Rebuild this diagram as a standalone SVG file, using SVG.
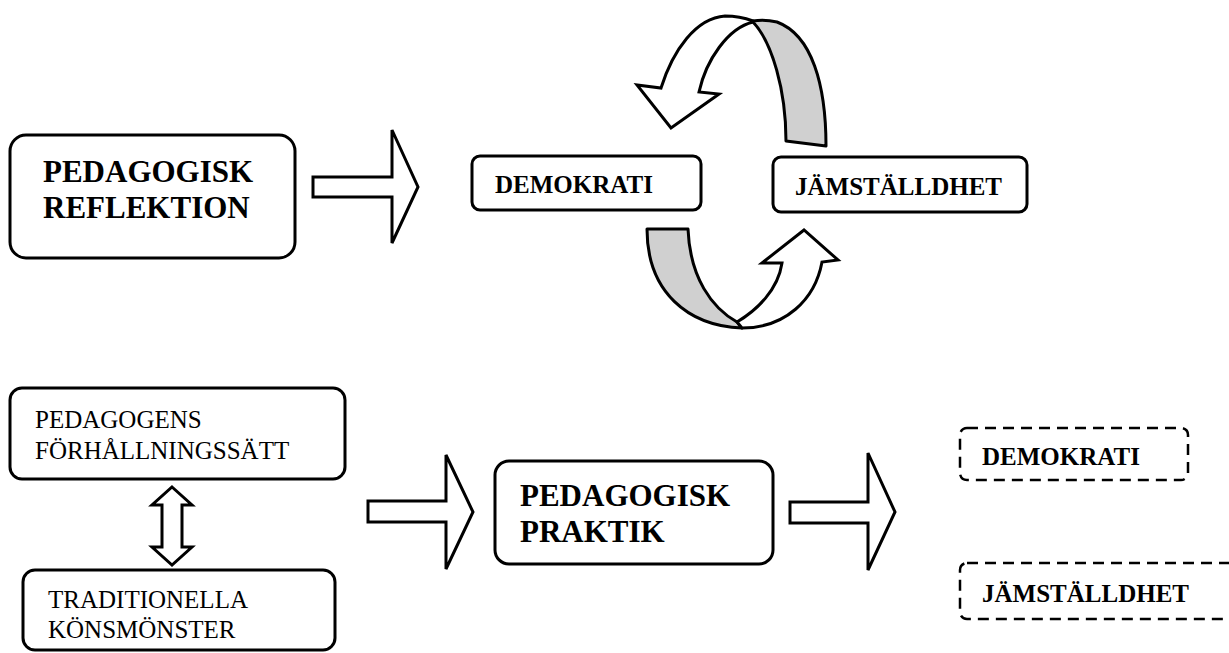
<svg xmlns="http://www.w3.org/2000/svg" width="1229" height="653" viewBox="0 0 1229 653">
<style>
.box{fill:#fff;stroke:#000;stroke-width:3}
.dash{fill:none;stroke:#000;stroke-width:2.5;stroke-dasharray:11 7}
.arr{fill:#fff;stroke:#000;stroke-width:3;stroke-linejoin:miter}
.gray{fill:#d0d0d0;stroke:#000;stroke-width:3;stroke-linejoin:round}
.white{fill:#fff;stroke:#000;stroke-width:3;stroke-linejoin:miter}
text{font-family:'Liberation Serif','Times New Roman',serif;fill:#000}
.big{font-weight:bold;font-size:31px}
.mid{font-weight:bold;font-size:25px}
.reg{font-size:25px}
</style>
<rect width="1229" height="653" fill="#fff"/>
<g id="connectors">
<polygon class="arr" points="313,177 392,177 392,130 418,187 392,243 392,197 313,197"/>
<polygon class="arr" points="368,501 446,501 446,455 473,512 446,569 446,522 368,522"/>
<polygon class="arr" points="790,502 868,502 868,453 895,512 868,570 868,523 790,523"/>
<polygon class="arr" points="172,487 192,505 182,505 182,547 192,547 172,565 152,547 162,547 162,505 152,505"/>
<g id="cycle-top">
<path class="gray" d="M753,22 C772,42 786,90 786,141 L826,146 C826,85 812,35 777,22 C768,20 760,20 753,21 Z"/>
<path class="white" d="M753,22 C728,28 706,60 699,92 L719,94 L671,128 L637,85 L661,88 C673,50 696,18 725,16 C735,16 745,18 753,21 Z"/>
</g>
<g id="cycle-bottom">
<path class="gray" d="M647,229 L688,229 C690,278 712,308 737,322 L742,328 C688,326 647,292 647,229 Z"/>
<path class="white" d="M737,322 C757,310 778,290 782,263 L762,263 L804,230 L838,260 L822,262 C815,300 785,328 742,328 Z"/>
</g>
</g>
<g id="node-reflektion">
<rect class="box" x="10" y="135" width="285" height="123" rx="16"/>
<text class="big" x="43" y="182">PEDAGOGISK</text>
<text class="big" x="43" y="218">REFLEKTION</text>
</g>
<g id="node-demokrati-top">
<rect class="box" x="472" y="156" width="229" height="54" rx="8"/>
<text class="mid" x="495" y="193">DEMOKRATI</text>
</g>
<g id="node-jamstalldhet-top">
<rect class="box" x="773" y="157" width="254" height="55" rx="8"/>
<text class="mid" x="795" y="195">JÄMSTÄLLDHET</text>
</g>
<g id="node-pedagogens">
<rect class="box" x="10" y="388" width="335" height="91" rx="12"/>
<text class="reg" x="35" y="428">PEDAGOGENS</text>
<text class="reg" x="35" y="459">FÖRHÅLLNINGSSÄTT</text>
</g>
<g id="node-traditionella">
<rect class="box" x="23" y="570" width="312" height="80" rx="12"/>
<text class="reg" x="48" y="608">TRADITIONELLA</text>
<text class="reg" x="48" y="638">KÖNSMÖNSTER</text>
</g>
<g id="node-praktik">
<rect class="box" x="495" y="461" width="278" height="103" rx="14"/>
<text class="big" x="520" y="506">PEDAGOGISK</text>
<text class="big" x="520" y="542">PRAKTIK</text>
</g>
<g id="node-demokrati-dashed">
<rect class="dash" x="960" y="428" width="228" height="52" rx="7"/>
<text class="mid" x="982" y="465">DEMOKRATI</text>
</g>
<g id="node-jamstalldhet-dashed">
<rect class="dash" x="960" y="563" width="290" height="56" rx="7"/>
<text class="mid" x="982" y="602">JÄMSTÄLLDHET</text>
</g>
</svg>
